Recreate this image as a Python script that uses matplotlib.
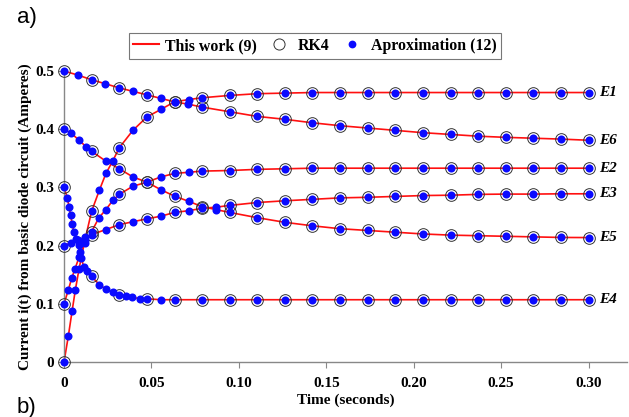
import numpy as np
import matplotlib
matplotlib.use("Agg")
import matplotlib.pyplot as plt
from matplotlib.lines import Line2D

# ---------------- data ----------------
t_rk4 = [0.0, 0.0158, 0.0316, 0.0474, 0.0632, 0.0789, 0.0947, 0.1105, 0.1263, 0.1421,
         0.1579, 0.1737, 0.1895, 0.2053, 0.2211, 0.2368, 0.2526, 0.2684, 0.2842, 0.3]

e1_rk4 = [0.0, 0.259, 0.368, 0.421, 0.447, 0.454, 0.458, 0.461, 0.462, 0.463,
          0.463, 0.463, 0.463, 0.463, 0.463, 0.463, 0.463, 0.463, 0.463, 0.463]
e2_rk4 = [0.1, 0.224, 0.288, 0.309, 0.324, 0.328, 0.329, 0.331, 0.332, 0.333,
          0.333, 0.333, 0.333, 0.333, 0.333, 0.333, 0.333, 0.333, 0.333, 0.333]
e3_rk4 = [0.2, 0.219, 0.236, 0.246, 0.257, 0.264, 0.269, 0.274, 0.277, 0.2795,
          0.282, 0.283, 0.2845, 0.286, 0.2866, 0.288, 0.2885, 0.2885, 0.289, 0.289]
e4_rk4 = [0.3, 0.147, 0.1155, 0.1086, 0.107, 0.107, 0.107, 0.107, 0.107, 0.107,
          0.107, 0.107, 0.107, 0.107, 0.107, 0.107, 0.107, 0.107, 0.107, 0.107]
e5_rk4 = [0.4, 0.362, 0.332, 0.309, 0.285, 0.267, 0.257, 0.248, 0.240, 0.234,
          0.229, 0.226, 0.223, 0.220, 0.218, 0.217, 0.216, 0.215, 0.214, 0.2138]
e6_rk4 = [0.5, 0.485, 0.471, 0.459, 0.447, 0.438, 0.430, 0.422, 0.417, 0.411,
          0.406, 0.402, 0.398, 0.394, 0.391, 0.388, 0.386, 0.3845, 0.383, 0.381]

# extra approximation points (eq. 12) between RK4 steps
e1_xt = [0.0025, 0.0046, 0.0065, 0.0086, 0.012, 0.0202, 0.024, 0.0278, 0.0394, 0.0554, 0.0714]
e1_xi = [0.045, 0.087, 0.124, 0.160, 0.210, 0.295, 0.324, 0.345, 0.398, 0.434, 0.451]
e2_xt = [0.0025, 0.0044, 0.0063, 0.0086, 0.012, 0.020, 0.024, 0.028, 0.0394, 0.0554, 0.0714]
e2_xi = [0.124, 0.144, 0.160, 0.180, 0.205, 0.248, 0.262, 0.278, 0.302, 0.318, 0.326]
e3_xt = [0.004, 0.008, 0.012, 0.024, 0.0394, 0.0554, 0.0714, 0.0868]
e3_xi = [0.205, 0.210, 0.214, 0.2276, 0.241, 0.2505, 0.260, 0.266]
e4_xt = [0.0019, 0.0029, 0.0038, 0.0047, 0.0057, 0.007, 0.0084, 0.009, 0.0099, 0.0114,
         0.0133, 0.0202, 0.024, 0.0278, 0.0354, 0.039, 0.0434, 0.0554]
e4_xi = [0.282, 0.266, 0.252, 0.237, 0.223, 0.212, 0.201, 0.189, 0.178, 0.163,
         0.156, 0.133, 0.125, 0.120, 0.113, 0.111, 0.109, 0.107]
e5_xt = [0.0042, 0.0086, 0.0126, 0.024, 0.0394, 0.0554, 0.0714, 0.0868]
e5_xi = [0.393, 0.381, 0.370, 0.345, 0.318, 0.296, 0.276, 0.262]
e6_xt = [0.0079, 0.0237, 0.0395, 0.0553, 0.0711]
e6_xi = [0.493, 0.478, 0.465, 0.453, 0.443]

labels = ["E1", "E2", "E3", "E4", "E5", "E6"]
x_ticks = [0, 0.05, 0.10, 0.15, 0.20, 0.25, 0.30]
x_ticklabels = ["0", "0.05", "0.10", "0.15", "0.20", "0.25", "0.30"]
y_ticks = [0, 0.1, 0.2, 0.3, 0.4, 0.5]
y_ticklabels = ["0", "0.1", "0.2", "0.3", "0.4", "0.5"]

series = [
    (e1_rk4, e1_xt, e1_xi),
    (e2_rk4, e2_xt, e2_xi),
    (e3_rk4, e3_xt, e3_xi),
    (e4_rk4, e4_xt, e4_xi),
    (e5_rk4, e5_xt, e5_xi),
    (e6_rk4, e6_xt, e6_xi),
]

# ---------------- figure ----------------
serif = ["Liberation Serif", "DejaVu Serif"]
fig = plt.figure(figsize=(6.29, 4.17), dpi=100)
ax = fig.add_axes([64 / 629, 1 - 362 / 417, (627 - 64) / 629, (362 - 71) / 417])

red = "#ff1010"
blue = "#0a0aff"
for (rk, xt, xi), lab in zip(series, labels):
    ta = np.array(list(t_rk4) + list(xt))
    ia = np.array(list(rk) + list(xi))
    order = np.argsort(ta)
    ta, ia = ta[order], ia[order]
    ax.plot(ta, ia, color=red, lw=1.2, zorder=2, clip_on=False)
    ax.plot(t_rk4, rk, linestyle="none", marker="o", ms=8.4, mfc="none",
            mec="#333333", mew=0.7, zorder=3, clip_on=False)
    ax.plot(ta, ia, linestyle="none", marker="o", ms=5.8, mfc=blue, mec=blue,
            mew=0, zorder=4, clip_on=False)
    ax.text(0.3063, rk[-1], lab, fontfamily=serif, fontweight="bold", fontstyle="italic",
            fontsize=11, va="center", ha="left")

ax.set_xlim(0, 0.322)
ax.set_ylim(0, 0.5)
ax.set_xticks(x_ticks)
ax.set_xticklabels(x_ticklabels)
ax.set_yticks(y_ticks)
ax.set_yticklabels(y_ticklabels)
for lbl in ax.get_xticklabels() + ax.get_yticklabels():
    lbl.set_fontfamily(serif)
    lbl.set_fontweight("bold")
    lbl.set_fontsize(11)
ax.tick_params(axis="x", direction="out", length=4, width=0.8, color="#888888", pad=7)
ax.tick_params(axis="y", direction="out", length=4, width=0.8, color="#888888", pad=3)
for s in ["top", "right"]:
    ax.spines[s].set_visible(False)
for s in ["left", "bottom"]:
    ax.spines[s].set_color("#888888")
    ax.spines[s].set_linewidth(1.0)

ax.set_xlabel("Time (seconds)", fontfamily=serif, fontweight="bold", fontsize=11, labelpad=2)
ax.set_ylabel("Current i(t) from basic diode circuit (Amperes)", fontfamily=serif,
              fontweight="bold", fontsize=11, labelpad=2)

handles = [
    Line2D([], [], color=red, lw=1.5),
    Line2D([], [], linestyle="none", marker="o", ms=8, mfc="none", mec="#333333", mew=0.7),
    Line2D([], [], linestyle="none", marker="o", ms=5.6, mfc=blue, mec=blue, mew=0),
]
leg = fig.legend(handles, ["This work (9)", "RK4", "Aproximation (12)"], ncol=3,
                 loc="center", bbox_to_anchor=(315 / 629, 1 - 46 / 417),
                 prop={"family": serif, "weight": "bold", "size": 11.4},
                 frameon=True, fancybox=False, edgecolor="#555555", handlelength=1.6,
                 handletextpad=0.4, columnspacing=0.6, borderpad=0.3, borderaxespad=0)
leg.get_frame().set_linewidth(0.8)

fig.text(17 / 629, 1 - 18 / 417, "a)", fontfamily=["Liberation Sans", "DejaVu Sans"],
         fontsize=16, va="center", ha="left")
fig.text(17 / 629, 1 - 407 / 417, "b)", fontfamily=["Liberation Sans", "DejaVu Sans"],
         fontsize=16, va="center", ha="left")

fig.savefig("out.png", dpi=100)
